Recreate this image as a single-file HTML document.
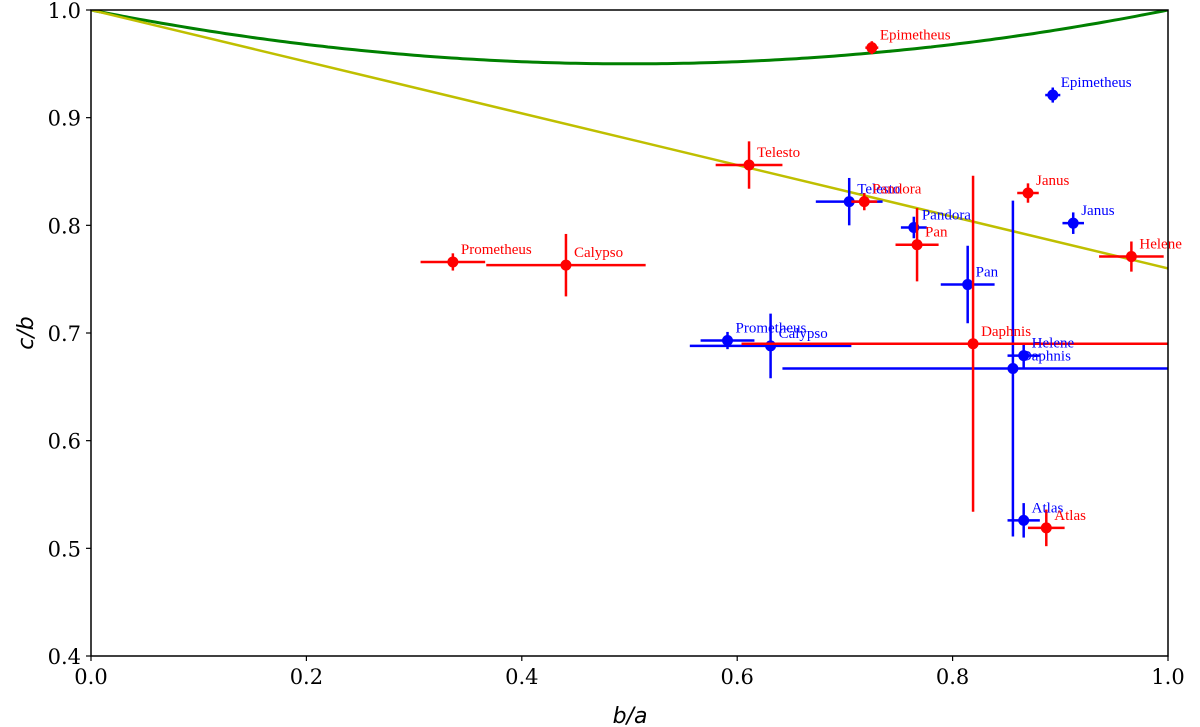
<!DOCTYPE html>
<html><head><meta charset="utf-8"><style>body{margin:0;background:#fff}svg{display:block;font-family:"DejaVu Serif","Liberation Serif",serif}</style></head>
<body>
<svg id="chart" width="1200" height="727" viewBox="0 0 1200 727" xmlns="http://www.w3.org/2000/svg">
<defs><clipPath id="plotclip"><rect x="91" y="10" width="1077" height="646"/></clipPath></defs>
<g id="plot" clip-path="url(#plotclip)"></g>
<g id="labels"></g>
<g id="axes"></g>
</svg>
<script>
const names = ["Epimetheus","Telesto","Pandora","Janus","Pan","Helene","Prometheus","Calypso","Daphnis","Atlas"];
const redX = [0.725,0.611,0.718,0.870,0.767,0.966,0.336,0.441,0.819,0.887];
const redY = [0.965,0.856,0.822,0.830,0.782,0.771,0.766,0.763,0.690,0.519];
const redXErr = [0.006,0.031,0.012,0.010,0.020,0.030,0.030,0.074,0.215,0.017];
const redYErr = [0.006,0.022,0.008,0.009,0.034,0.014,0.008,0.029,0.156,0.017];
const blueX = [0.893,0.704,0.764,0.912,0.814,0.866,0.591,0.631,0.856,0.866];
const blueY = [0.921,0.822,0.798,0.802,0.745,0.679,0.693,0.688,0.667,0.526];
const blueXErr = [0.007,0.031,0.012,0.010,0.025,0.015,0.025,0.075,0.214,0.015];
const blueYErr = [0.007,0.022,0.010,0.010,0.036,0.012,0.008,0.030,0.156,0.016];
const xTicks = [0.0,0.2,0.4,0.6,0.8,1.0];
const yTicks = [0.4,0.5,0.6,0.7,0.8,0.9,1.0];

const X0=91,X1=1168,Y0=656,Y1=10;
const sx=v=>X0+(v-0)/(1-0)*(X1-X0);
const sy=v=>Y0-(v-0.4)/(1.0-0.4)*(Y0-Y1);
const NS="http://www.w3.org/2000/svg";
const plot=document.getElementById('plot'), axes=document.getElementById('axes'), labels=document.getElementById('labels');
function mk(tag,attrs,parent){const e=document.createElementNS(NS,tag);for(const k in attrs)e.setAttribute(k,attrs[k]);parent.appendChild(e);return e;}

let g="";
for(let i=0;i<=200;i++){const x=i/200;const y=1-0.2*x*(1-x);g+=(i?"L":"M")+sx(x).toFixed(1)+","+sy(y).toFixed(1);}
const green=mk('path',{d:g,fill:'none',stroke:'#008000','stroke-width':3},plot);


const yel=mk('line',{x1:sx(0),y1:sy(1),x2:sx(1),y2:sy(0.76),stroke:'#bfbf00','stroke-width':2.5},plot);



function series(xs,ys,xe,ye,color,key){
  for(let i=0;i<xs.length;i++){
    const grp=mk('g',{},plot);
    
    
    mk('line',{x1:sx(xs[i]-xe[i]),x2:sx(xs[i]+xe[i]),y1:sy(ys[i]),y2:sy(ys[i]),stroke:color,'stroke-width':2.5},grp);
    mk('line',{x1:sx(xs[i]),x2:sx(xs[i]),y1:sy(ys[i]-ye[i]),y2:sy(ys[i]+ye[i]),stroke:color,'stroke-width':2.5},grp);
    mk('circle',{cx:sx(xs[i]),cy:sy(ys[i]),r:5.5,fill:color},grp);
    const t=mk('text',{x:sx(xs[i])+8,y:sy(ys[i])-8,fill:color,'font-size':14,'font-family':'Liberation Serif, DejaVu Serif, serif','textLength':0},labels);
    t.removeAttribute('textLength');
    
    
    t.setAttribute('font-size','15');
    t.textContent=names[i];
  }
}
series(blueX,blueY,blueXErr,blueYErr,'#0000ff','blue');
series(redX,redY,redXErr,redYErr,'#ff0000','red');

const fr=mk('rect',{x:X0,y:Y1,width:X1-X0,height:Y0-Y1,fill:'none',stroke:'#000','stroke-width':1.5},axes);


xTicks.forEach(v=>{
  mk('line',{x1:sx(v),x2:sx(v),y1:Y0,y2:Y0+5,stroke:'#000','stroke-width':1.2},axes);
  const t=mk('text',{x:sx(v),y:Y0+28,'text-anchor':'middle','font-size':21},axes);
  
  
  t.textContent=v.toFixed(1);
});
yTicks.forEach(v=>{
  mk('line',{x1:X0-5,x2:X0,y1:sy(v),y2:sy(v),stroke:'#000','stroke-width':1.2},axes);
  const t=mk('text',{x:X0-10,y:sy(v)+8,'text-anchor':'end','font-size':21},axes);
  
  
  t.textContent=v.toFixed(1);
});
const xt=mk('text',{x:630,y:723,'text-anchor':'middle','font-size':22,'font-style':'italic','font-family':'DejaVu Sans, Liberation Sans, sans-serif'},axes);


xt.textContent='b/a';
const yt=mk('text',{x:0,y:0,'text-anchor':'middle','font-size':22,'font-style':'italic','font-family':'DejaVu Sans, Liberation Sans, sans-serif',transform:'translate(33,333) rotate(-90)'},axes);


yt.textContent='c/b';
</script>
</body></html>
